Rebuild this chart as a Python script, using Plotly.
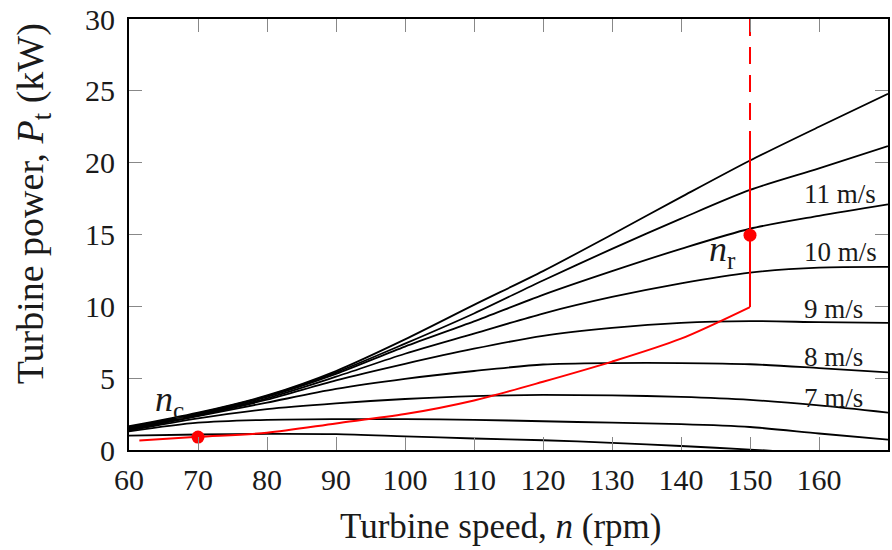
import plotly.graph_objects as go

# ---------------- data ----------------
speed_rpm = [60, 70, 80, 90, 100, 110, 120, 130, 140, 150, 160, 170]

power_13 = [1.65, 2.6, 3.8, 5.5, 7.7, 10.1, 12.45, 15.0, 17.6, 20.15, 22.5, 24.8]
power_12 = [1.6, 2.55, 3.75, 5.4, 7.4, 9.5, 11.8, 14.0, 16.1, 18.1, 19.6, 21.15]
power_11 = [1.55, 2.5, 3.7, 5.3, 7.2, 8.95, 10.8, 12.45, 14.0, 15.4, 16.3, 17.1]
power_10 = [1.5, 2.45, 3.6, 5.1, 6.7, 8.1, 9.5, 10.65, 11.6, 12.35, 12.7, 12.75]
power_9 = [1.45, 2.4, 3.5, 4.85, 6.0, 7.05, 7.95, 8.5, 8.85, 8.97, 8.9, 8.85]
power_8 = [1.4, 2.35, 3.3, 4.25, 4.95, 5.5, 5.95, 6.05, 6.05, 5.97, 5.7, 5.4]
power_7 = [1.35, 2.2, 2.85, 3.25, 3.55, 3.75, 3.83, 3.8, 3.7, 3.49, 3.1, 2.6]
power_6 = [1.3, 1.9, 2.1, 2.15, 2.15, 2.1, 2.0, 1.9, 1.8, 1.6, 1.15, 0.72]
power_5 = [1.0, 1.08, 1.12, 1.1, 0.95, 0.8, 0.68, 0.5, 0.28, 0.03, -0.25, -0.5]

black_series = [power_13, power_12, power_11, power_10, power_9,
                power_8, power_7, power_6, power_5]

mppt_rpm = [61.5, 70, 80, 90, 100, 110, 120, 130, 140, 150]
mppt_power = [0.66, 0.92, 1.2, 1.85, 2.5, 3.45, 4.75, 6.15, 7.75, 9.95]

limit_rpm = [150, 150]
limit_power_solid = [9.95, 22.2]
limit_power_dashed = [30, 22.2]

point_rpm = [70, 150]
point_power = [0.9, 14.95]

label_texts = ["11 m/s", "10 m/s", "9 m/s", "8 m/s", "7 m/s"]
label_power = [17.85, 13.8, 9.84, 6.48, 3.6]
label_rpm = 157.5

x_ticks = [60, 70, 80, 90, 100, 110, 120, 130, 140, 150, 160]
y_ticks = [0, 5, 10, 15, 20, 25, 30]

# ---------------- figure ----------------
FONT = "Liberation Serif, Times New Roman, serif"
RED = "#ff0000"
TXT = "#1a1a1a"

fig = go.Figure()

for ser in black_series:
    fig.add_trace(go.Scatter(x=speed_rpm, y=ser, mode="lines",
                             line=dict(color="black", width=1.8, shape="spline", smoothing=0.8),
                             showlegend=False, hoverinfo="skip"))

fig.add_trace(go.Scatter(x=mppt_rpm, y=mppt_power, mode="lines",
                         line=dict(color=RED, width=2, shape="spline", smoothing=0.8),
                         showlegend=False))
fig.add_trace(go.Scatter(x=limit_rpm, y=limit_power_solid, mode="lines",
                         line=dict(color=RED, width=2), showlegend=False))
fig.add_trace(go.Scatter(x=limit_rpm, y=limit_power_dashed, mode="lines",
                         line=dict(color=RED, width=2, dash="17px,11px"), showlegend=False))
fig.add_trace(go.Scatter(x=point_rpm, y=point_power, mode="markers",
                         marker=dict(color=RED, size=13), showlegend=False))

for t, p in zip(label_texts, label_power):
    fig.add_annotation(x=label_rpm, y=p, text=t, showarrow=False,
                       xanchor="left", yanchor="middle",
                       font=dict(family=FONT, size=27, color=TXT))

fig.add_annotation(x=65.8, y=3.4, text="<i>n</i><sub>c</sub>", showarrow=False,
                   xanchor="center", yanchor="middle",
                   font=dict(family=FONT, size=36, color=TXT))
fig.add_annotation(x=146.0, y=13.8, text="<i>n</i><sub>r</sub>", showarrow=False,
                   xanchor="center", yanchor="middle",
                   font=dict(family=FONT, size=36, color=TXT))

# axis titles
fig.add_annotation(xref="paper", yref="paper", x=0.49, y=0, yshift=-76,
                   text="Turbine speed, <i>n</i> (rpm)", showarrow=False,
                   xanchor="center", yanchor="middle",
                   font=dict(family=FONT, size=35, color=TXT))
fig.add_annotation(xref="paper", yref="paper", x=0, xshift=-96, y=0.57,
                   text="Turbine power, <i>P</i><sub>t</sub> (kW)", showarrow=False,
                   textangle=-90, xanchor="center", yanchor="middle",
                   font=dict(family=FONT, size=38, color=TXT))

axis_common = dict(showline=True, linecolor="black", linewidth=2, mirror="ticks",
                   ticks="inside", ticklen=13, tickwidth=1.2, tickcolor="#888",
                   showgrid=False, zeroline=False, ticklabeloverflow="allow",
                   tickfont=dict(family=FONT, size=30, color=TXT))

fig.update_xaxes(range=[60, 170], tickvals=x_ticks, ticklabelstandoff=2, **axis_common)
fig.update_yaxes(range=[-0.0001, 30.0001], tickvals=y_ticks, ticklabelstandoff=6, **axis_common)

fig.update_layout(width=892, height=550, margin=dict(l=129, r=2, t=16, b=100),
                  plot_bgcolor="white", paper_bgcolor="white")

fig.write_html("out.html")
